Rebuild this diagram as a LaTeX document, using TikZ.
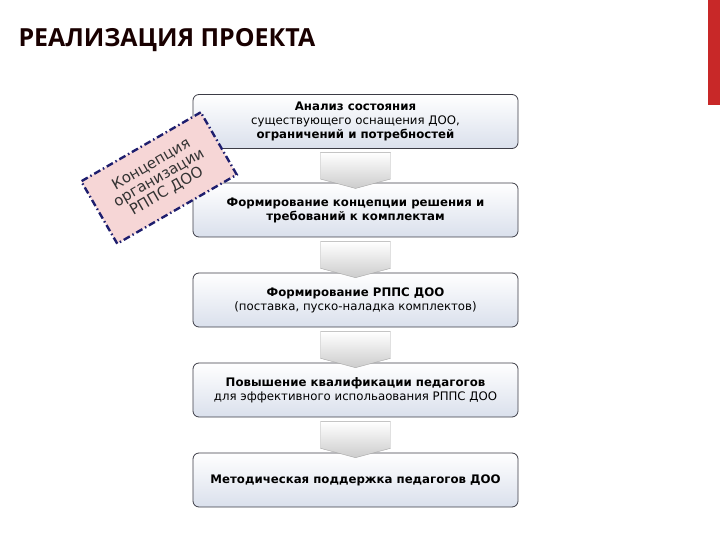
\documentclass[tikz,border=0pt]{standalone}
\usepackage{fontspec}
\setmainfont{DejaVu Sans}
\newfontfamily\titlefont{Open Sans}
\usetikzlibrary{shapes.arrows}
\definecolor{boxfill}{RGB}{218,224,236}
\definecolor{boxline}{RGB}{60,60,70}
\definecolor{pinkfill}{RGB}{246,214,214}
\definecolor{dashblue}{RGB}{30,30,110}
\definecolor{barred}{RGB}{200,40,40}
\tikzset{
  stepbox/.style={draw=boxline, line width=0.8pt, rounded corners=6bp, top color=white, bottom color=boxfill, minimum width=325bp, minimum height=54bp, align=center, font=\fontsize{11.8}{14}\selectfont, inner sep=2bp},
  downarrow/.style={single arrow, shape border rotate=270, draw=gray!70, top color=white, bottom color=gray!40, minimum width=70bp, single arrow head extend=0bp, minimum height=36bp, inner sep=0pt, single arrow tip angle=150}
}
\begin{document}
\begin{tikzpicture}[x=1bp,y=-1bp]
\useasboundingbox (0,0) rectangle (720,540);
\fill[barred] (708,0) rectangle (720,105);
\node[anchor=west, font=\titlefont\bfseries\fontsize{25}{28}\selectfont, text=black!90!red] (title) at (15,40) {РЕАЛИЗАЦИЯ ПРОЕКТА};
\node[stepbox] (b1) at (355.5,121.5) {\textbf{Анализ состояния}\\существующего оснащения ДОО,\\\textbf{ограничений и потребностей}};
\node[stepbox] (b2) at (355.5,210) {\textbf{Формирование концепции решения и}\\\textbf{требований к комплектам}};
\node[stepbox] (b3) at (355.5,300) {\textbf{Формирование РППС ДОО}\\(поставка, пуско-наладка комплектов)};
\node[stepbox] (b4) at (355.5,390) {\textbf{Повышение квалификации педагогов}\\для эффективного испольаования РППС ДОО};
\node[stepbox] (b5) at (355.5,480) {\textbf{Методическая поддержка педагогов ДОО}};
\foreach \a/\b in {b1/b2,b2/b3,b3/b4,b4/b5}{
  \path (\a.south) -- (\b.north) node[midway, downarrow] {};
}
\node[draw=dashblue, line width=2.4pt, dash pattern=on 7bp off 3bp on 1.5bp off 3bp, fill=pinkfill, rotate=30, minimum width=138bp, minimum height=72bp, align=center, font=\fontsize{15}{15.5}\selectfont, text=black!80, inner sep=1bp] (concept) at (159,178) {Концепция\\организации\\РППС ДОО};
\end{tikzpicture}
\end{document}
